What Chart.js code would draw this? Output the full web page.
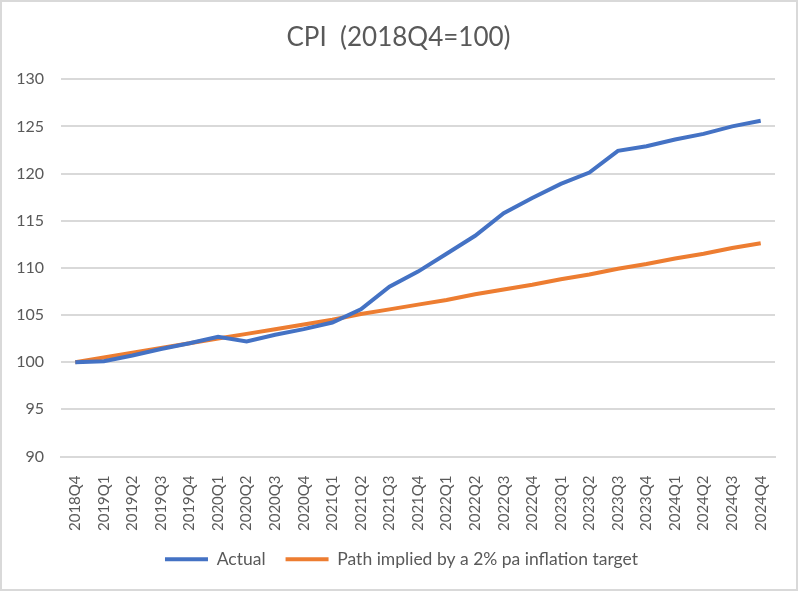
<!DOCTYPE html>
<html>
<head>
<meta charset="utf-8">
<script src="https://cdn.jsdelivr.net/npm/chart.js@4"></script>
<style>
  body { margin: 0; background: #fff; }
  #holder { position: relative; width: 794px; height: 587px; border: 2px solid #d9d9d9; }
</style>
</head>
<body>
<div id="holder"><canvas id="myChart" width="794" height="587"></canvas></div>
<script>
// quarters on the x axis
var quarters = ['2018Q4',
  '2019Q1', '2019Q2', '2019Q3', '2019Q4',
  '2020Q1', '2020Q2', '2020Q3', '2020Q4',
  '2021Q1', '2021Q2', '2021Q3', '2021Q4',
  '2022Q1', '2022Q2', '2022Q3', '2022Q4',
  '2023Q1', '2023Q2', '2023Q3', '2023Q4',
  '2024Q1', '2024Q2', '2024Q3', '2024Q4'];

var actual = [100.0,
  100.1, 100.7, 101.4, 102.0,
  102.7, 102.2, 102.9, 103.5,
  104.2, 105.6, 108.0, 109.6,
  111.5, 113.4, 115.8, 117.4,
  118.9, 120.1, 122.4, 122.9,
  123.6, 124.2, 125.0, 125.6];

var targetPath = [100.0,
  100.5, 101.0, 101.5, 102.0,
  102.5, 103.0, 103.5, 104.0,
  104.5, 105.1, 105.6, 106.1,
  106.6, 107.2, 107.7, 108.2,
  108.8, 109.3, 109.9, 110.4,
  111.0, 111.5, 112.1, 112.6];

var seriesNames = ['Actual', 'Path implied by a 2% pa inflation target'];
var titleText = 'CPI  (2018Q4=100)';

var txtColor = '#595959';
var gridColor = '#d9d9d9';
var fontFam = 'Lato, "Liberation Sans", sans-serif';

// title and legend are centred on the whole box, not on the space left of the right padding
var shiftBlocks = {
  id: 'shiftBlocks',
  afterLayout: function (chart) {
    chart.titleBlock.left += 10;
    chart.titleBlock.right += 10;
    chart.legend.left += 13;
    chart.legend.right += 13;
  }
};

var ctx = document.getElementById('myChart').getContext('2d');
var cpiChart = new Chart(ctx, {
  type: 'line',
  data: {
    labels: quarters,
    datasets: [{
      label: seriesNames[0],
      data: actual,
      borderColor: '#4472c4',
      backgroundColor: '#4472c4',
      borderWidth: 4,
      pointRadius: 0,
      tension: 0
    }, {
      label: seriesNames[1],
      data: targetPath,
      borderColor: '#ed7d31',
      backgroundColor: '#ed7d31',
      borderWidth: 4,
      pointRadius: 0,
      tension: 0
    }]
  },
  plugins: [shiftBlocks],
  options: {
    responsive: false,
    maintainAspectRatio: false,
    animation: false,
    layout: { padding: { left: 0, right: 21, top: 6, bottom: 11 } },
    plugins: {
      title: {
        display: true,
        text: titleText,
        color: txtColor,
        font: { family: fontFam, size: 26, weight: 'normal' },
        padding: { top: 14, bottom: 26 }
      },
      legend: {
        position: 'bottom',
        labels: {
          color: txtColor,
          font: { family: fontFam, size: 17.5 },
          usePointStyle: true,
          pointStyle: 'line',
          pointStyleWidth: 43,
          padding: 20
        }
      },
      tooltip: { enabled: false }
    },
    scales: {
      x: {
        offset: true,
        grid: { display: false },
        border: { color: gridColor, width: 2 },
        ticks: {
          color: txtColor,
          font: { family: fontFam, size: 15 },
          minRotation: 90,
          maxRotation: 90,
          autoSkip: false,
          padding: 11
        },
        afterFit: function (axis) {
          axis.paddingLeft = 0;
          axis.paddingRight = 0;
          axis.height = 74;
        }
      },
      y: {
        min: 90,
        max: 130,
        grid: { color: gridColor, lineWidth: 2, drawTicks: false },
        border: { display: false },
        ticks: {
          stepSize: 5,
          color: txtColor,
          font: { family: fontFam, size: 16 },
          padding: 17
        },
        afterFit: function (axis) {
          axis.width = 59;
        }
      }
    }
  }
});
</script>
</body>
</html>
